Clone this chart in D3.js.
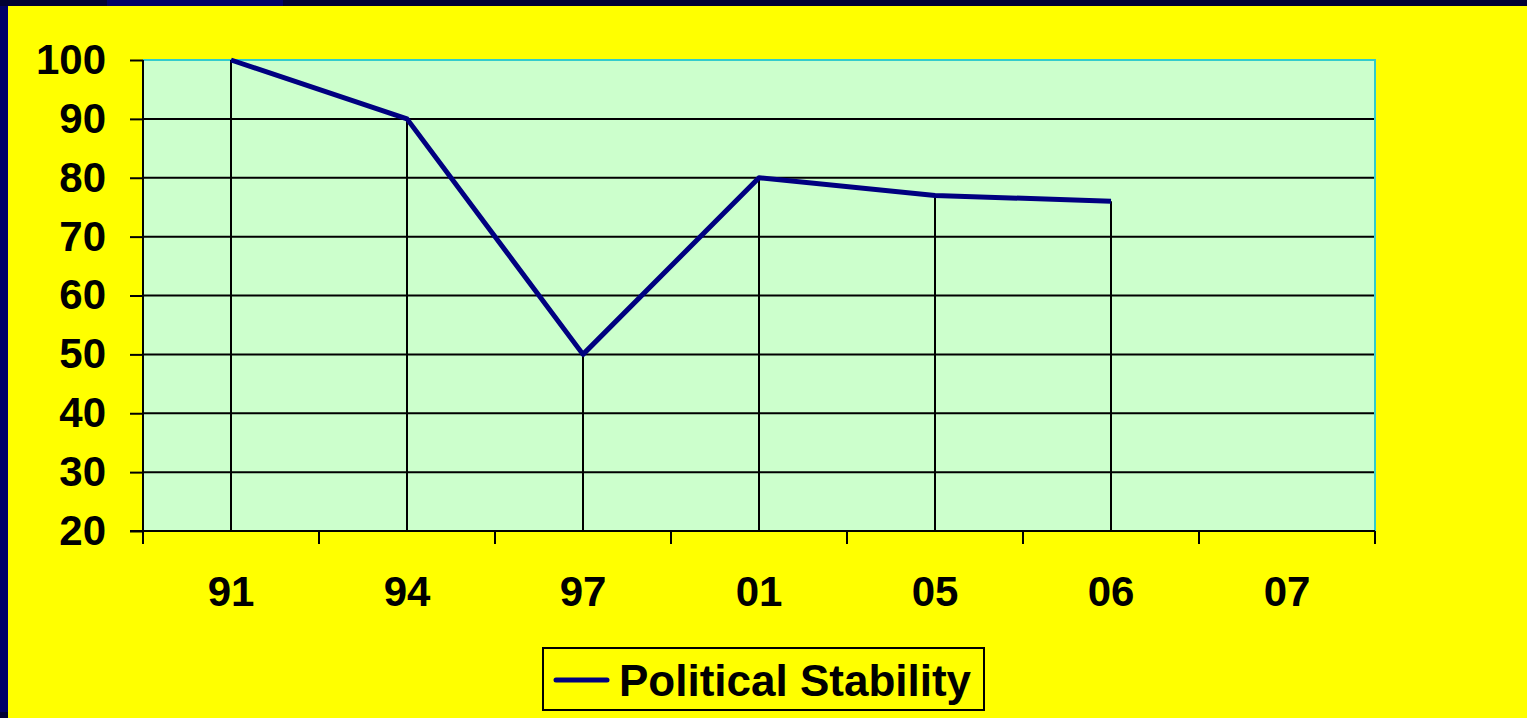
<!DOCTYPE html>
<html>
<head>
<meta charset="utf-8">
<script src="https://cdn.jsdelivr.net/npm/d3@7"></script>
<style>
html,body{margin:0;padding:0;background:#000040;overflow:hidden;}
svg{display:block;}
</style>
</head>
<body>
<svg id="chart" width="1527" height="718"></svg>
<script>
const categories = ["91","94","97","01","05","06","07"];
const values = [100, 90, 50, 80, 77, 76];
const yTicks = [20,30,40,50,60,70,80,90,100];
const seriesName = "Political Stability";

const W = 1527, H = 718;
const svg = d3.select("#chart");
const font = "'Liberation Sans', Arial, sans-serif";

// frame
svg.append("rect").attr("x",0).attr("y",0).attr("width",W).attr("height",H).attr("fill","#000033");
svg.append("rect").attr("x",0).attr("y",6).attr("width",8).attr("height",706).attr("fill","#000066");
svg.append("rect").attr("x",107).attr("y",0).attr("width",176).attr("height",6).attr("fill","#000066");
svg.append("rect").attr("x",8).attr("y",6).attr("width",W-8).attr("height",H-6).attr("fill","#ffff00");

const plot = {left:143, right:1375, top:60, bottom:531};

const x = d3.scaleBand().domain(categories).range([plot.left, plot.right]).paddingInner(0).paddingOuter(0);
const y = d3.scaleLinear().domain([20,100]).range([plot.bottom, plot.top]);

// plot background
svg.append("rect").attr("x",plot.left).attr("y",plot.top)
  .attr("width",plot.right-plot.left).attr("height",plot.bottom-plot.top)
  .attr("fill","#ccffcc");

// gridlines
svg.append("g").selectAll("line").data(yTicks.filter(d=>d>20 && d<100)).join("line")
  .attr("x1",plot.left).attr("x2",plot.right)
  .attr("y1",d=>y(d)).attr("y2",d=>y(d))
  .attr("stroke","#000").attr("stroke-width",2);

// plot border top/right cyan
svg.append("path")
  .attr("d",`M${plot.left},${plot.top}H${plot.right}V${plot.bottom}`)
  .attr("fill","none").attr("stroke","#33cccc").attr("stroke-width",2);

// drop lines
const pts = values.map((v,i)=>({c:categories[i], v}));
svg.append("g").selectAll("line").data(pts).join("line")
  .attr("x1",d=>x(d.c)+x.bandwidth()/2).attr("x2",d=>x(d.c)+x.bandwidth()/2)
  .attr("y1",d=>y(d.v)).attr("y2",plot.bottom)
  .attr("stroke","#000").attr("stroke-width",2);

// y axis
const yAxis = d3.axisLeft(y).tickValues(yTicks).tickSize(13).tickPadding(24).tickFormat(d3.format("d"));
const gy = svg.append("g").attr("transform",`translate(${plot.left},0)`).call(yAxis);
gy.select(".domain").attr("stroke","#000").attr("stroke-width",2).attr("d",`M0,${plot.top}V${plot.bottom}`);
gy.selectAll(".tick line").attr("stroke","#000").attr("stroke-width",2);
gy.selectAll(".tick text").attr("fill","#000").style("font-family",font).style("font-weight","bold").style("font-size","42px");

// x axis: ticks at band boundaries
const boundaries = categories.map(c=>x(c)).concat([plot.right]);
const gx = svg.append("g");
gx.append("line").attr("x1",plot.left-13).attr("x2",plot.right).attr("y1",plot.bottom).attr("y2",plot.bottom)
  .attr("stroke","#000").attr("stroke-width",2);
gx.selectAll("line.tk").data(boundaries).join("line").attr("class","tk")
  .attr("x1",d=>d).attr("x2",d=>d).attr("y1",plot.bottom).attr("y2",plot.bottom+13)
  .attr("stroke","#000").attr("stroke-width",2);
gx.selectAll("text").data(categories).join("text")
  .attr("x",d=>x(d)+x.bandwidth()/2).attr("y",606)
  .attr("text-anchor","middle").attr("fill","#000")
  .style("font-family",font).style("font-weight","bold").style("font-size","42px")
  .text(d=>d);

// series line
const line = d3.line().x(d=>x(d.c)+x.bandwidth()/2).y(d=>y(d.v));
svg.append("path").datum(pts).attr("d",line)
  .attr("fill","none").attr("stroke","#000080").attr("stroke-width",5).attr("stroke-linejoin","round");

// legend
const lg = svg.append("g");
lg.append("rect").attr("x",543).attr("y",648).attr("width",441).attr("height",62)
  .attr("fill","#ffff00").attr("stroke","#000").attr("stroke-width",2);
lg.append("line").attr("x1",556).attr("x2",607).attr("y1",680).attr("y2",680)
  .attr("stroke","#000080").attr("stroke-width",5).attr("stroke-linecap","round");
lg.append("text").attr("x",619).attr("y",696).attr("fill","#000")
  .style("font-family",font).style("font-weight","bold").style("font-size","44px")
  .text(seriesName);
</script>
</body>
</html>
